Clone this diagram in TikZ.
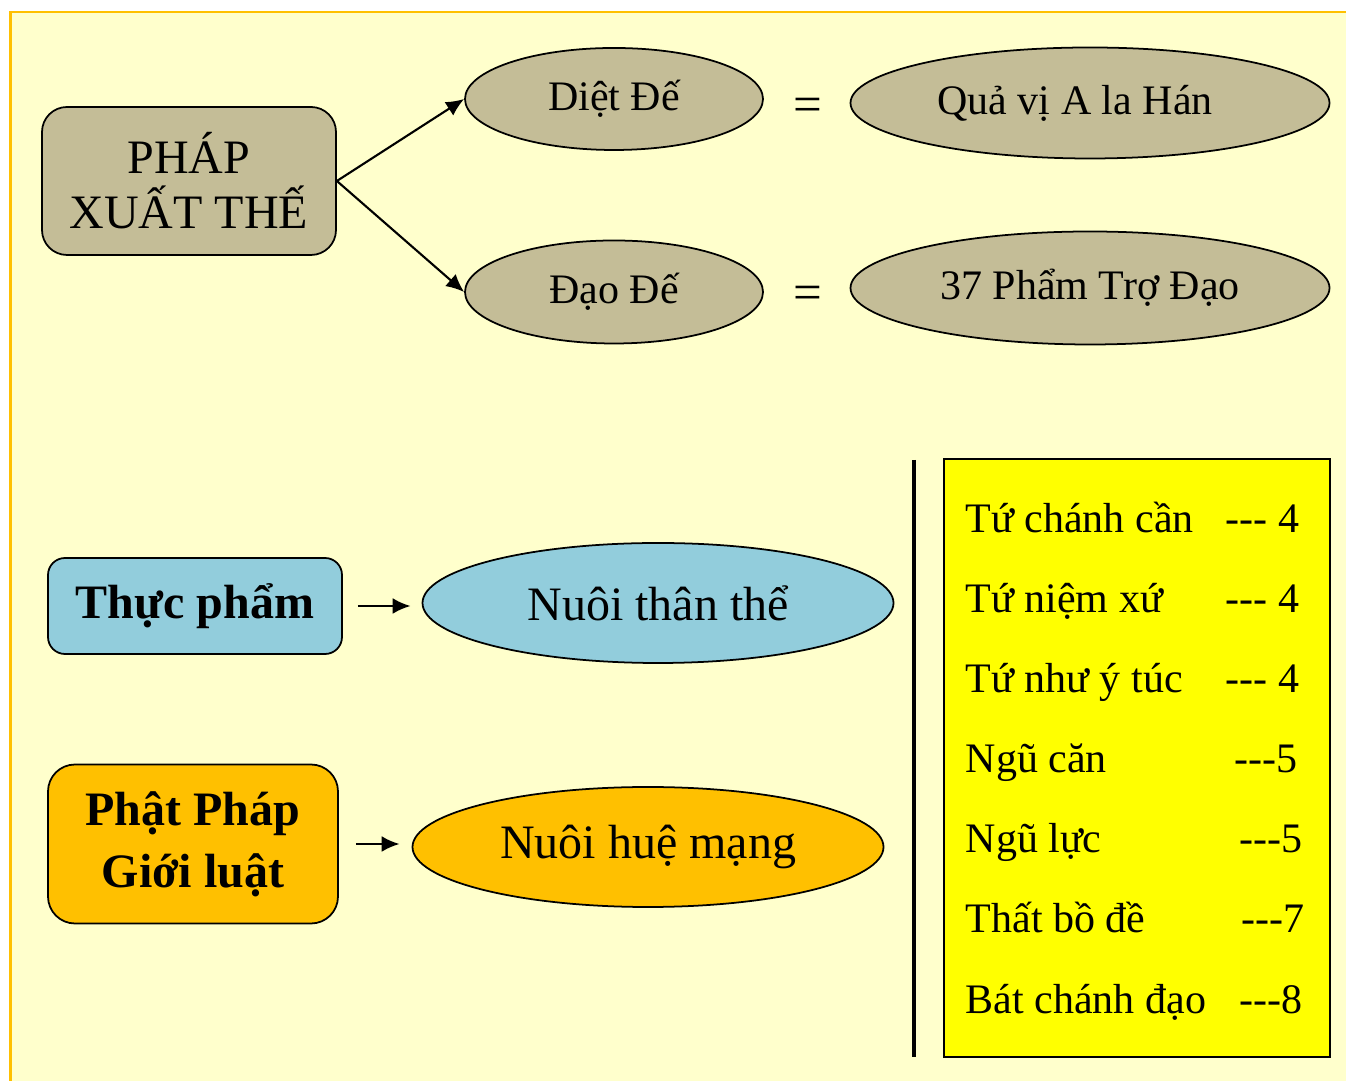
\documentclass[tikz,border=0pt]{standalone}
\usepackage{fontspec}
\setmainfont{Liberation Serif}
\usetikzlibrary{arrows.meta,shapes.geometric,positioning}
\definecolor{pagebg}{HTML}{FFFFCC}
\definecolor{pageframe}{HTML}{FFC000}
\definecolor{khakifill}{HTML}{C4BD97}
\definecolor{bluefill}{HTML}{92CDDC}
\definecolor{amberfill}{HTML}{FFC000}
\definecolor{listfill}{HTML}{FFFF00}
% three hyphens kept apart (no em dash)
\newcommand{\tridash}{\mbox{-}\mbox{-}\mbox{-}}
\newcommand{\midsize}{\fontsize{11.95}{14}\selectfont}
\newcommand{\bigsize}{\fontsize{13.66}{15.65}\selectfont}

\begin{document}
\begin{tikzpicture}[>={Latex[length=1.8mm,width=1.6mm]},
  oval/.style={ellipse,draw,line width=.5pt,inner sep=0pt},
  roundbox/.style={rectangle,draw,line width=.5pt,inner sep=0pt,align=center},
  conn/.style={->,line width=.6pt}]
\useasboundingbox (0,0) rectangle (13.46,10.8);
\fill[white] (0,0) rectangle (13.46,10.8);
\clip (0,0) rectangle (13.46,10.8);
\draw[fill=pagebg,draw=pageframe,line width=.8pt] (.105,-.5) rectangle (14,10.68);
% upper part
\node[roundbox,fill=khakifill,rounded corners=.25cm,minimum width=2.94cm,minimum height=1.48cm,font=\bigsize]
  (phap) at (1.89,8.99) {PHÁP\\XUẤT THẾ};
\node[oval,fill=khakifill,minimum width=2.98cm,minimum height=1.02cm,font=\midsize] (diet) at (6.14,9.81) {Diệt Đế};
\node[oval,fill=khakifill,minimum width=2.98cm,minimum height=1.03cm,font=\midsize] (dao) at (6.14,7.88) {Đạo Đế};
\node[font=\fontsize{14.5}{16}\selectfont] (eq1) at (8.08,9.70) {=};
\node[font=\fontsize{14.5}{16}\selectfont] (eq2) at (8.08,7.82) {=};
\node[oval,fill=khakifill,minimum width=4.79cm,minimum height=1.11cm,font=\midsize] (qua) at (10.90,9.77) {Quả vị A la Hán\hspace*{.3cm}};
\node[oval,fill=khakifill,minimum width=4.79cm,minimum height=1.13cm,font=\midsize] (tro) at (10.90,7.92) {37 Phẩm Trợ Đạo};
\draw[conn] (phap.east) -- (diet.west);
\draw[conn] (phap.east) -- (dao.west);
% lower left
\node[roundbox,fill=bluefill,rounded corners=.17cm,minimum width=2.94cm,minimum height=.96cm,font=\bigsize\bfseries]
  (thuc) at (1.95,4.74) {Thực phẩm};
\node[oval,fill=bluefill,minimum width=4.71cm,minimum height=1.20cm,font=\bigsize] (than) at (6.58,4.77) {Nuôi thân thể};
\node[roundbox,fill=amberfill,rounded corners=.27cm,minimum width=2.90cm,minimum height=1.59cm,
  font=\fontsize{13.66}{17.6}\selectfont\bfseries] (phat) at (1.93,2.36) {Phật Pháp\\Giới luật};
\node[oval,fill=amberfill,minimum width=4.71cm,minimum height=1.20cm,font=\bigsize] (hue) at (6.48,2.33) {Nuôi huệ mạng};
\draw[conn,line width=.75pt,shorten <=.15cm,shorten >=.11cm] (thuc.east) -- (thuc.east -| than.west);
\draw[conn,line width=.75pt,shorten <=.17cm,shorten >=.12cm] (phat.east) -- (phat.east -| hue.west);
% list on the right
\coordinate (bartop) at (9.14,6.20);\coordinate (barbot) at (9.14,.23);
\draw[line width=1.4pt] (bartop) -- (barbot);
\draw[fill=listfill,line width=.5pt] (9.44,6.21) rectangle (13.30,.23);
\begin{scope}[every node/.style={font=\midsize,inner sep=0pt}]
\node[anchor=base west] (r1) at (9.65,5.47) {Tứ chánh cần};  \node[anchor=base east] (c1) at (13.00,5.47) {\tridash{} 4};
\node[anchor=base west] (r2) at (9.65,4.67) {Tứ niệm xứ};    \node[anchor=base east] (c2) at (13.00,4.67) {\tridash{} 4};
\node[anchor=base west] (r3) at (9.65,3.87) {Tứ như ý túc};  \node[anchor=base east] (c3) at (13.00,3.87) {\tridash{} 4};
\node[anchor=base west] (r4) at (9.65,3.07) {Ngũ căn};       \node[anchor=base east] (c4) at (12.98,3.07) {\tridash5};
\node[anchor=base west] (r5) at (9.65,2.27) {Ngũ lực};       \node[anchor=base east] (c5) at (13.03,2.27) {\tridash5};
\node[anchor=base west] (r6) at (9.65,1.47) {Thất bồ đề};    \node[anchor=base east] (c6) at (13.05,1.47) {\tridash7};
\node[anchor=base west] (r7) at (9.65,.67) {Bát chánh đạo};  \node[anchor=base east] (c7) at (13.03,.67) {\tridash8};
\end{scope}
\end{tikzpicture}
\end{document}
